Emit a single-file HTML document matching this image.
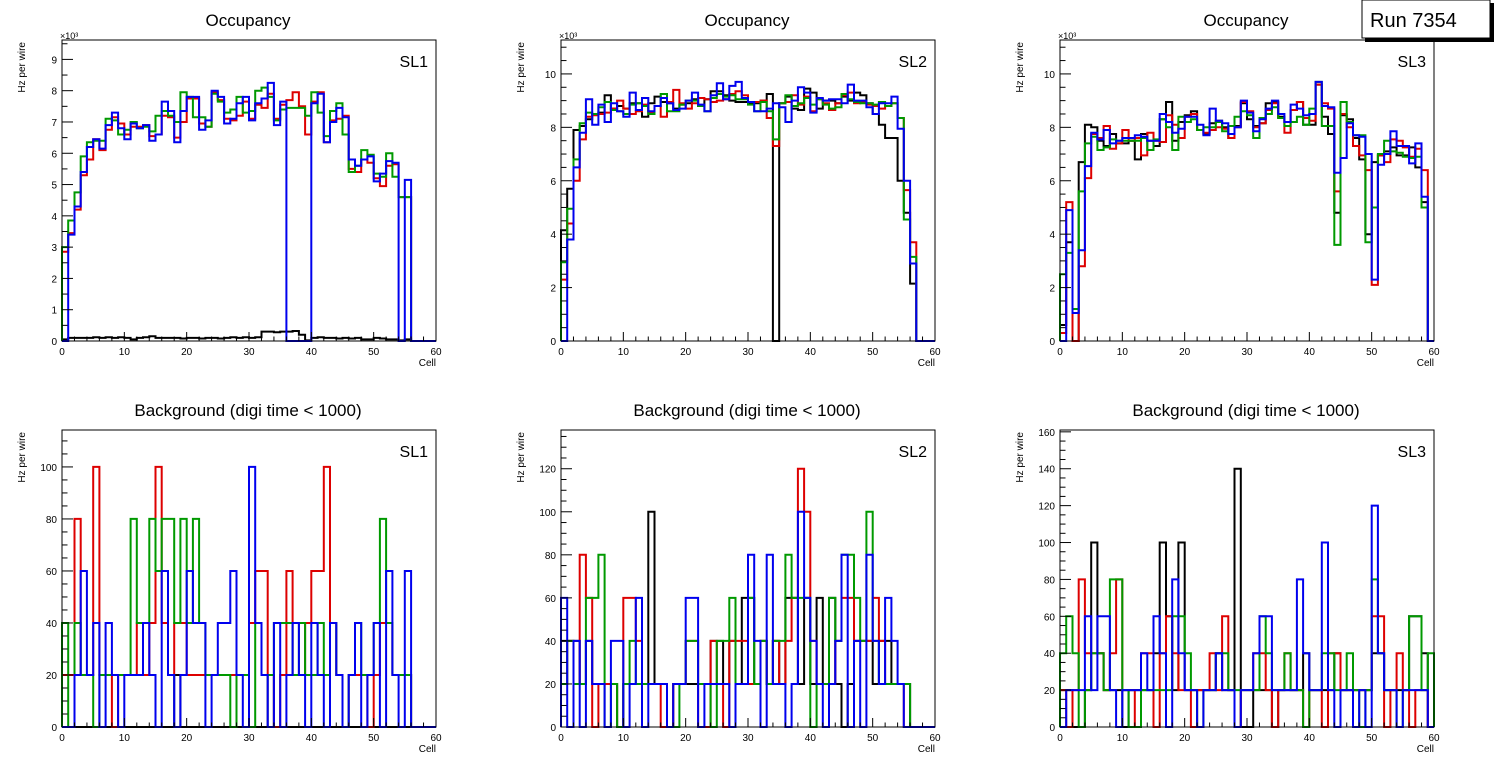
<!DOCTYPE html>
<html><head><meta charset="utf-8"><style>
html,body{margin:0;padding:0;background:#fff;}
svg{display:block;font-family:"Liberation Sans",sans-serif;}
</style></head><body>
<svg id="c" width="1496" height="772" viewBox="0 0 1496 772">
<g>
<rect x="1365" y="3" width="129" height="39" fill="#000"/>
<rect x="1362" y="0" width="128" height="38" fill="#fff" stroke="#000" stroke-width="1"/>
<text x="1370" y="27" font-size="20" fill="#000">Run 7354</text>
</g>
</svg>
<script>
// ---- data (values per cell, bins 0..59) ----
const cells = 60;
const tlBlack=[0.05,0.1,0.1,0.1,0.1,0.12,0.1,0.12,0.1,0.12,0.1,0.05,0.1,0.12,0.15,0.1,0.1,0.1,0.1,0.08,0.1,0.1,0.08,0.1,0.1,0.08,0.1,0.12,0.1,0.12,0.1,0.12,0.3,0.3,0.28,0.3,0.3,0.32,0.2,0.02,0.1,0.12,0.1,0.1,0.08,0.1,0.08,0.1,0.05,0.05,0.1,0.08,0.05,0.05,0.02,0.05,0,0,0,0];
const tlRed=[2.85,3.45,4.2,5.3,5.8,6.45,6.1,6.75,7.15,6.95,6.6,6.85,6.85,6.9,6.55,6.6,7.2,7.15,6.5,7.0,7.75,7.75,6.95,6.85,7.95,7.7,7.1,7.05,7.2,7.65,7.1,7.55,7.45,7.9,7.1,7.55,7.7,7.95,7.5,6.6,7.65,7.95,6.35,7.05,7.1,7.2,5.5,5.4,5.8,5.7,5.2,4.95,5.6,5.65,4.6,4.6,0,0,0,0];
const tlGreen=[3.0,3.85,4.75,5.9,6.35,6.4,6.4,7.1,7.05,6.6,6.75,7.0,6.8,6.85,6.7,7.2,7.35,7.2,7.0,7.95,7.8,7.15,7.15,6.85,7.9,7.65,7.3,7.4,7.8,7.3,7.35,8.0,8.1,7.8,7.05,7.4,7.45,7.45,7.45,7.2,7.95,7.3,6.55,7.35,7.6,6.6,5.4,5.6,6.1,5.95,5.35,5.25,6.0,5.25,4.6,4.6,0,0,0,0];
const tlBlue=[0,3.4,4.3,5.4,6.2,6.45,6.15,6.9,7.3,6.8,6.45,6.95,6.8,6.9,6.4,6.6,7.65,7.35,6.35,7.35,7.8,7.8,6.75,7.05,8.0,7.8,6.95,7.1,7.6,7.8,7.05,7.6,7.75,8.25,6.9,7.65,0,0,0,0,7.6,7.9,6.35,7.0,7.45,7.15,5.8,5.6,5.8,5.9,5.1,5.35,5.75,5.7,0,5.15,0,0,0,0];

const tmBlack=[4.15,5.7,7.9,8.05,8.3,8.5,8.55,9.2,8.7,8.8,8.7,8.9,8.9,8.4,8.9,9.15,8.95,8.9,8.7,8.85,8.9,9.05,8.8,9.05,9.35,9.35,9.2,9.0,8.95,8.95,8.9,8.9,9.0,9.25,0,8.9,9.15,8.7,8.65,9.45,9.3,8.7,9.0,9.0,8.9,9.15,9.0,9.3,9.2,8.9,8.5,8.1,7.6,7.6,6.0,4.8,2.15,0,0,0];
const tmRed=[2.3,4.4,6.0,7.55,8.4,8.45,8.5,8.55,8.7,9.0,8.7,8.5,8.6,8.85,8.55,8.8,8.4,8.95,9.4,8.9,8.7,8.9,9.1,9.05,8.95,9.0,9.05,9.25,9.35,9.2,8.95,8.95,9.0,8.35,7.3,8.9,8.95,9.2,8.85,9.15,8.6,9.05,8.9,8.65,8.9,9.2,9.3,8.9,8.95,8.85,8.8,8.7,8.8,8.9,8.35,5.65,3.7,0,0,0];
const tmGreen=[2.95,4.95,6.8,8.15,8.55,8.5,8.75,8.95,8.65,8.6,8.5,8.85,8.9,8.8,8.5,8.8,9.25,8.6,8.6,8.85,9.0,9.0,8.8,8.6,9.1,9.25,9.15,9.2,9.05,9.05,8.85,8.6,8.95,8.6,7.55,8.9,9.2,8.8,8.9,9.1,8.85,9.05,8.85,8.7,8.75,9.25,9.05,8.95,8.9,8.9,8.85,8.95,8.8,8.9,8.35,4.55,3.15,0,0,0];
const tmBlue=[0,3.8,6.5,7.8,9.05,8.1,8.85,8.2,8.9,8.6,8.4,9.3,8.65,9.1,8.6,8.8,9.1,8.9,8.65,8.7,9.0,9.3,8.85,8.6,9.2,9.65,9.05,9.55,9.7,9.1,8.95,8.6,8.6,8.7,8.9,8.75,8.2,9.0,9.5,9.3,8.55,9.1,9.0,9.05,9.05,8.9,9.6,9.0,9.0,8.75,8.5,8.9,8.9,9.15,7.95,6.0,2.9,0,0,0];

const trBlack=[0.6,3.7,0,6.7,8.1,8.0,7.5,7.3,7.75,7.4,7.4,7.5,6.8,7.75,7.5,7.3,8.3,8.95,7.5,8.2,8.45,8.6,7.9,7.75,8.15,8.25,8.0,7.6,8.05,8.9,8.3,8.05,8.15,8.9,8.95,8.4,8.2,8.65,8.95,8.1,8.1,9.6,8.4,7.75,4.8,8.45,8.3,7.6,6.8,4.0,6.7,6.95,7.1,7.25,6.95,6.95,7.25,6.5,5.2,0];
const trRed=[0.3,5.2,0,2.8,6.1,7.75,7.6,8.05,7.2,7.4,7.9,7.5,7.6,6.95,7.8,7.5,7.45,8.45,8.1,7.6,8.4,8.5,7.9,7.8,7.9,8.0,7.95,7.6,8.0,8.95,8.6,8.0,8.15,8.65,8.9,8.35,7.8,8.65,8.95,8.35,8.25,9.6,8.9,8.7,5.6,8.5,8.0,7.3,6.95,6.4,2.1,6.95,6.7,7.55,7.5,7.25,6.9,7.2,6.4,0];
const trGreen=[2.5,3.3,1.2,5.6,7.4,7.65,7.15,7.25,7.55,7.5,7.5,7.5,7.5,7.6,7.15,7.55,8.3,8.0,7.15,8.4,8.2,8.3,7.9,8.0,8.0,8.2,7.85,8.05,8.4,8.6,8.45,7.6,8.35,8.5,8.75,8.35,8.05,8.2,8.4,8.1,8.7,9.7,8.05,8.05,3.6,8.95,8.2,7.7,7.7,3.7,5.0,7.0,7.5,7.1,7.05,6.9,6.85,6.9,5.0,0];
const trBlue=[0,4.9,1.05,3.4,6.55,7.8,7.55,7.9,7.4,7.5,7.6,7.6,7.7,7.65,7.5,7.5,8.5,8.2,7.8,7.95,8.4,8.4,8.1,7.7,8.7,8.25,8.15,7.75,8.0,9.0,8.55,7.85,8.3,8.7,9.0,8.5,8.2,8.85,8.7,8.45,8.5,9.7,8.8,8.75,6.3,6.85,8.15,7.7,7.65,7.0,2.3,6.6,7.0,7.85,7.3,7.3,6.65,7.4,5.4,0];

const blBlack=[0,0,0,0,0,0,0,0,0,0,0,0,0,0,0,0,0,0,20,0,0,0,0,0,0,0,0,0,0,0,0,0,0,20,0,0,0,0,0,0,0,0,0,0,0,0,0,0,0,0,0,0,0,0,0,0,0,0,0,0];
const blRed=[20,20,80,20,20,100,20,20,0,20,20,20,40,20,40,100,40,20,40,40,20,20,20,20,20,20,20,20,20,20,40,60,60,20,0,20,60,20,20,40,60,60,100,40,20,0,20,20,20,0,20,40,40,20,20,20,0,0,0,0];
const blGreen=[40,0,40,20,20,0,20,20,20,20,20,80,40,40,80,60,80,80,40,80,40,80,40,20,20,20,20,0,20,20,0,40,20,20,40,40,40,20,40,20,20,40,20,40,20,0,20,40,20,20,40,80,40,20,20,20,0,0,0,0];
const blBlue=[0,0,20,60,20,40,0,40,20,0,20,20,20,40,20,0,60,20,0,20,60,40,40,0,20,40,40,60,20,0,100,40,20,0,40,0,20,40,20,0,40,20,0,40,20,0,20,40,0,20,40,0,60,20,0,60,0,0,0,0];

const bmBlack=[40,40,40,20,40,20,20,20,20,0,20,20,20,20,100,20,20,0,20,20,20,20,20,20,40,40,20,40,20,60,60,20,40,20,40,20,60,60,20,60,20,60,20,60,20,0,20,40,40,40,20,40,40,20,20,20,0,0,0,0];
const bmRed=[20,40,20,80,60,0,20,20,20,0,60,60,40,20,20,20,0,0,20,20,40,40,0,0,40,20,0,40,40,40,20,20,40,20,40,20,40,60,120,100,40,20,20,20,40,60,60,40,40,40,60,40,20,20,20,0,0,0,0,0];
const bmGreen=[20,40,20,20,60,60,80,0,20,0,20,40,20,20,20,20,20,0,0,20,40,40,20,20,0,40,40,60,20,20,60,20,40,20,40,40,80,60,60,60,0,20,20,60,40,80,80,60,40,100,40,20,20,20,20,20,0,0,0,0];
const bmBlue=[60,0,40,0,40,20,20,0,40,40,0,20,60,0,20,20,20,0,20,20,60,60,0,20,20,20,20,0,20,20,80,40,0,80,20,20,0,20,100,60,40,20,0,20,40,80,0,40,0,80,40,20,60,40,20,0,0,0,0,0];

const brBlack=[20,20,0,0,20,100,40,20,20,20,0,20,20,20,20,40,100,60,20,100,20,20,20,20,20,40,20,20,140,0,0,20,20,20,0,20,20,20,20,40,20,20,20,20,40,20,20,20,20,20,40,40,20,20,20,20,60,60,40,0];
const brRed=[20,0,20,80,40,40,40,20,40,80,20,20,0,40,40,0,40,60,40,20,20,0,20,20,40,20,60,20,0,20,20,40,40,20,0,20,40,20,20,0,20,20,0,40,40,20,20,20,20,20,60,60,0,20,40,20,0,20,20,0];
const brGreen=[40,60,40,0,20,40,40,20,80,80,20,0,0,20,20,20,20,20,60,60,40,20,0,20,20,40,40,20,20,20,20,20,60,40,20,20,40,20,20,0,20,20,40,40,20,20,40,20,0,20,80,40,20,20,0,20,60,60,20,40];
const brBlue=[0,20,20,20,60,20,60,60,20,0,20,20,20,40,20,60,40,0,80,40,20,20,0,20,20,40,20,20,0,20,20,40,60,60,20,20,20,20,80,40,20,20,100,20,0,20,20,0,20,0,120,40,20,20,0,20,20,20,20,0];

const xTicks=[0,10,20,30,40,50,60];
const colors={black:"#000000",red:"#dd0000",green:"#009900",blue:"#0000ee"};

const panels=[
 {id:"sl1-occupancy",x0:62,x1:436,y0:40,y1:341,ymax:9.62,major:1,minor:0.5,ticks:[0,1,2,3,4,5,6,7,8,9],exp:true,title:"Occupancy",sl:"SL1",series:[["black",tlBlack],["red",tlRed],["green",tlGreen],["blue",tlBlue]]},
 {id:"sl2-occupancy",x0:561,x1:935,y0:40,y1:341,ymax:11.27,major:2,minor:0.5,ticks:[0,2,4,6,8,10],exp:true,title:"Occupancy",sl:"SL2",series:[["black",tmBlack],["red",tmRed],["green",tmGreen],["blue",tmBlue]]},
 {id:"sl3-occupancy",x0:1060,x1:1434,y0:40,y1:341,ymax:11.27,major:2,minor:0.5,ticks:[0,2,4,6,8,10],exp:true,title:"Occupancy",sl:"SL3",series:[["black",trBlack],["red",trRed],["green",trGreen],["blue",trBlue]]},
 {id:"sl1-background",x0:62,x1:436,y0:430,y1:727,ymax:114.2,major:20,minor:5,ticks:[0,20,40,60,80,100],exp:false,title:"Background (digi time < 1000)",sl:"SL1",series:[["black",blBlack],["red",blRed],["green",blGreen],["blue",blBlue]]},
 {id:"sl2-background",x0:561,x1:935,y0:430,y1:727,ymax:138,major:20,minor:5,ticks:[0,20,40,60,80,100,120],exp:false,title:"Background (digi time < 1000)",sl:"SL2",series:[["black",bmBlack],["red",bmRed],["green",bmGreen],["blue",bmBlue]]},
 {id:"sl3-background",x0:1060,x1:1434,y0:430,y1:727,ymax:161,major:20,minor:5,ticks:[0,20,40,60,80,100,120,140,160],exp:false,title:"Background (digi time < 1000)",sl:"SL3",series:[["black",brBlack],["red",brRed],["green",brGreen],["blue",brBlue]]}
];

const NS="http://www.w3.org/2000/svg";
const svg=document.getElementById("c");
function mk(tag,attrs,parent){const e=document.createElementNS(NS,tag);for(const k in attrs)e.setAttribute(k,attrs[k]);parent.appendChild(e);return e;}

panels.forEach(p=>{
  const g=mk("g",{},svg);
  
  
  const xs=v=>p.x0+(p.x1-p.x0)*v/60;
  const ys=v=>p.y1-(p.y1-p.y0)*Math.min(v,p.ymax)/p.ymax;
  const cx=(p.x0+p.x1)/2;
  const t=mk("text",{x:cx-1,y:p.y0-14,"font-size":17,"text-anchor":"middle",fill:"#000"},g);
  t.textContent=p.title;
  
  
  // series
  p.series.forEach(([c,arr])=>{
    let d="M"+xs(0)+","+p.y1;
    for(let i=0;i<cells;i++){const v=arr[i]||0;d+=" V"+ys(v).toFixed(1)+" H"+xs(i+1).toFixed(1);}
    d+=" V"+p.y1;
    const path=mk("path",{d:d,fill:"none",stroke:colors[c],"stroke-width":2,"stroke-linejoin":"miter"},g);
    
    
  });
  // frame
  const fr=mk("rect",{x:p.x0,y:p.y0,width:p.x1-p.x0,height:p.y1-p.y0,fill:"none",stroke:"#000","stroke-width":1},g);
  
  
  // x ticks
  const xa=mk("g",{},g);
  
  
  for(let v=0;v<=60;v+=2){const big=v%10===0;mk("line",{x1:xs(v),x2:xs(v),y1:p.y1,y2:p.y1-(big?9:4.5),stroke:"#000","stroke-width":1},xa);}
  xTicks.forEach(v=>{const tl=mk("text",{x:xs(v),y:p.y1+14,"font-size":10,"text-anchor":"middle",fill:"#000"},xa);tl.textContent=v;
    
    });
  const xt=mk("text",{x:p.x1,y:p.y1+25,"font-size":10,"text-anchor":"end",fill:"#000"},xa);
  xt.textContent="Cell";
  
  
  // y ticks
  const ya=mk("g",{},g);
  
  
  for(let v=0;v<=p.ymax+1e-9;v+=p.minor){const big=Math.abs(v/p.major-Math.round(v/p.major))<1e-6;mk("line",{x1:p.x0,x2:p.x0+(big?11:5.5),y1:ys(v),y2:ys(v),stroke:"#000","stroke-width":1},ya);}
  p.ticks.forEach(v=>{const tl=mk("text",{x:p.x0-5,y:ys(v)+4,"font-size":10,"text-anchor":"end",fill:"#000"},ya);tl.textContent=v;
    
    });
  if(p.exp){const e=mk("text",{x:p.x0-2,y:p.y0-1,"font-size":9,fill:"#000"},ya);e.textContent="×10³";
    
    }
  const yt=mk("text",{x:0,y:0,"font-size":10,"text-anchor":"end",fill:"#000",transform:"translate("+(p.x0-37)+","+(p.y0+2)+") rotate(-90)"},ya);
  yt.textContent="Hz per wire";
  
  
  const sl=mk("text",{x:p.x1-8,y:p.y0+27,"font-size":16,"text-anchor":"end",fill:"#000"},g);
  sl.textContent=p.sl;
  
  
});
</script>
</body></html>
